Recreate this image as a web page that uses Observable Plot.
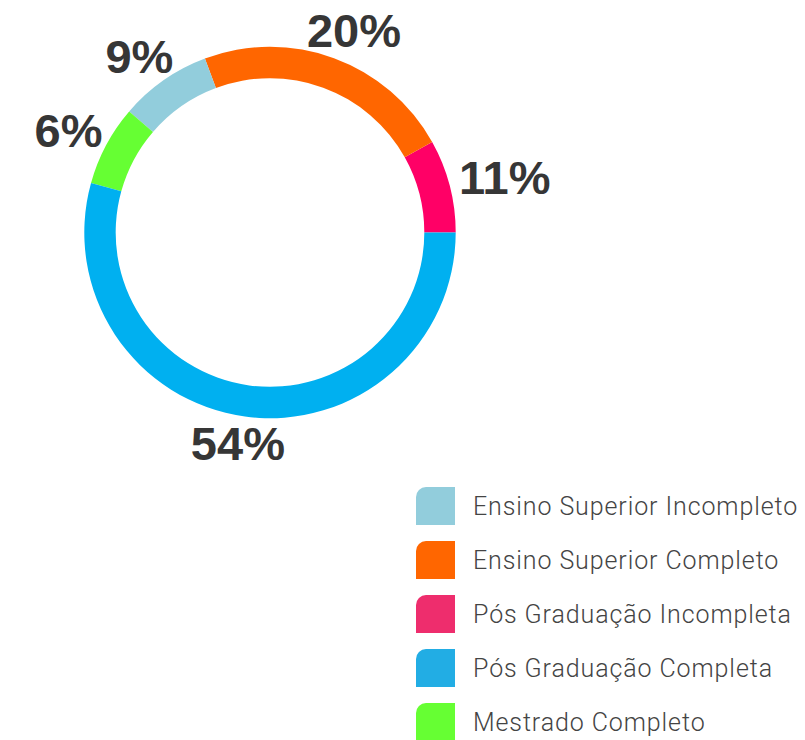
<!DOCTYPE html>
<html>
<head>
<meta charset="utf-8">
<script src="https://cdn.jsdelivr.net/npm/d3@7"></script>
<script src="https://cdn.jsdelivr.net/npm/@observablehq/plot@0.6"></script>
<style>
  body { margin: 0; background: #fff; }
  #chart svg { display: block; }
  .lg-swatches {
    margin: 0 0 0 416px !important;
    font-family: Roboto, Lato, "Open Sans", sans-serif !important;
    font-weight: 300 !important;
    font-size: 25px !important;
    letter-spacing: 0.9px;
    color: #444 !important;
  }
  .lg-swatches .lg-swatch { padding-bottom: 16px !important; display: flex; align-items: center; }
  .lg-swatches .lg-swatch > svg {
    margin-right: 18px !important;
    overflow: hidden !important;
    border-top-left-radius: 10px;
  }
</style>
</head>
<body>
<div id="chart"></div>
<div id="legend"></div>
<script>
// Ring segments, counter-clockwise from 3 o'clock
const categories = ["Pós Graduação Incompleta", "Ensino Superior Completo", "Ensino Superior Incompleto", "Mestrado Completo", "Pós Graduação Completa"];
const shares = [8.1, 22.6, 8.0, 7.0, 54.3];          // arc share as drawn
const labels = ["11%", "20%", "9%", "6%", "54%"];      // printed data labels
const ringColors = ["#FF0066", "#FF6600", "#92CDDC", "#66FF33", "#00B0F0"];

// Legend
const legendOrder = ["Ensino Superior Incompleto", "Ensino Superior Completo", "Pós Graduação Incompleta", "Pós Graduação Completa", "Mestrado Completo"];
const legendColors = ["#92CDDC", "#FF6600", "#EE2D6D", "#22ADE4", "#66FF33"];

const W = 805, H = 487;
const X0 = 84.3, X1 = 455.7, Y0 = 418.2, Y1 = 46.8;
const Rpx = (X1 - X0) / 2;
const INNER = 0.831;
const LABEL_FONT = 47;

const rows = categories.map((c, i) => ({category: c, share: shares[i], label: labels[i], color: ringColors[i]}));
const pie = d3.pie().sort(null).value(d => d.share)
  .startAngle(Math.PI / 2).endAngle(Math.PI / 2 - 2 * Math.PI);
const arcs = pie(rows);

const labelRows = arcs.map(a => {
  const m = (a.startAngle + a.endAngle) / 2;
  const s = Math.sin(m), c = Math.cos(m);
  const txt = a.data.label;
  const w = ((txt.length - 1) * 0.556 + 0.889) * LABEL_FONT;
  const h = 0.8 * LABEL_FONT;
  const r = 195 / Rpx;
  return {
    x: s * r + s * (w / 2) / Rpx,
    y: c * r + c * (h / 2) / Rpx,
    text: txt
  };
});

function ringMark(index, scales) {
  const {x, y} = scales;
  const cx = x(0), cy = y(0);
  const R = x(1) - x(0);
  const arc = d3.arc().innerRadius(R * INNER).outerRadius(R);
  const g = d3.create("svg:g").attr("transform", `translate(${cx},${cy})`);
  g.selectAll("path").data(arcs).join("path")
    .attr("d", arc)
    .attr("fill", d => d.data.color);
  return g.node();
}

const chart = Plot.plot({
  width: W,
  height: H,
  x: {domain: [-1, 1], range: [X0, X1], axis: null},
  y: {domain: [-1, 1], range: [Y0, Y1], axis: null},
  marks: [
    ringMark,
    Plot.text(labelRows, {
      x: "x", y: "y", text: "text",
      fontSize: LABEL_FONT, fontWeight: "bold",
      fontFamily: "'Liberation Sans', Arial, Helvetica, sans-serif",
      fill: "#363636", textAnchor: "middle"
    })
  ]
});
document.getElementById("chart").appendChild(chart);

const legend = Plot.legend({
  color: {type: "ordinal", domain: legendOrder, range: legendColors},
  legend: "swatches",
  columns: 1,
  swatchWidth: 39,
  swatchHeight: 38,
  className: "lg"
});
document.getElementById("legend").appendChild(legend);
</script>
</body>
</html>
